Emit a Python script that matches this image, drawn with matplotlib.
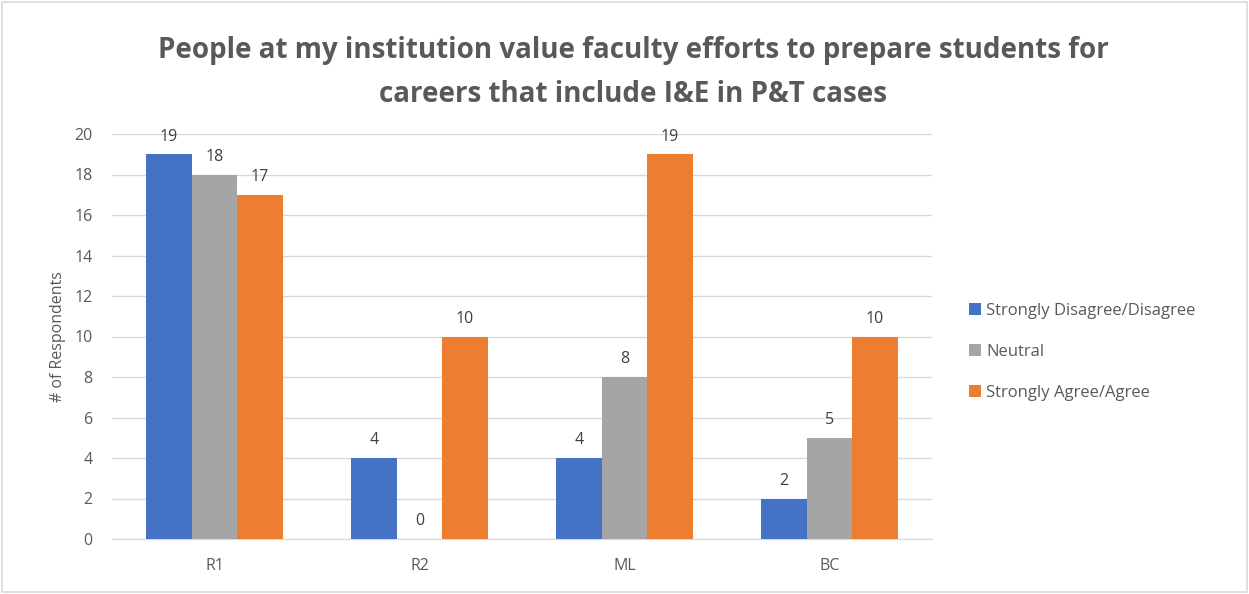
import numpy as np
import matplotlib.pyplot as plt
from matplotlib.patches import Rectangle

categorias = ['R1', 'R2', 'ML', 'BC']
series = ['Strongly Disagree/Disagree', 'Neutral', 'Strongly Agree/Agree']
discordo = [19, 4, 4, 2]
neutro = [18, 0, 8, 5]
concordo = [17, 10, 19, 10]
valores = [discordo, neutro, concordo]
cores = ['#4472c4', '#a5a5a5', '#ed7d31']

plt.rcParams['font.family'] = ['Open Sans', 'DejaVu Sans']

fig = plt.figure(figsize=(12.49, 5.94), dpi=100)
fig.patches.append(Rectangle((0.002, 0.003), 0.996, 0.994, transform=fig.transFigure,
                             fill=False, edgecolor='#d9d9d9', linewidth=1.2))
ax = fig.add_axes([112 / 1249, 55 / 594, 820 / 1249, 405 / 594])

x = np.arange(len(categorias))
w = 0.222
for i, (vals, nome, cor) in enumerate(zip(valores, series, cores)):
    pos = x + (i - 1) * w
    ax.bar(pos, vals, width=w, color=cor, label=nome, zorder=3)
    for p, v in zip(pos, vals):
        ax.annotate(str(v), (p, v), xytext=(0, 7), textcoords='offset points',
                    ha='center', va='bottom', fontsize=11.5, color='#404040')

ax.set_xlim(-0.5, 3.5)
ax.set_ylim(0, 20)
ax.set_yticks(range(0, 21, 2))
ax.set_xticks(x)
ax.set_xticklabels(categorias)
ax.tick_params(axis='both', length=0, labelsize=11.5, labelcolor='#595959')
ax.tick_params(axis='x', pad=14)
ax.tick_params(axis='y', pad=14)
ax.grid(axis='y', color='#d9d9d9', linewidth=1, zorder=0)
for s in ['top', 'right', 'left']:
    ax.spines[s].set_visible(False)
ax.spines['bottom'].set_color('#d9d9d9')
ax.set_ylabel('# of Respondents', fontsize=11.5, color='#595959', labelpad=6)

fig.suptitle('People at my institution value faculty efforts to prepare students for\ncareers that include I&E in P&T cases',
             x=0.507, y=0.94, fontsize=20, fontweight='bold', color='#595959', linespacing=1.7)

fig.legend(loc='center left', bbox_to_anchor=(0.764, 0.408), frameon=False,
           fontsize=12, labelcolor='#595959', handlelength=0.7, handleheight=0.7,
           handletextpad=0.3, labelspacing=1.5)

fig.savefig('out.png', dpi=100)
